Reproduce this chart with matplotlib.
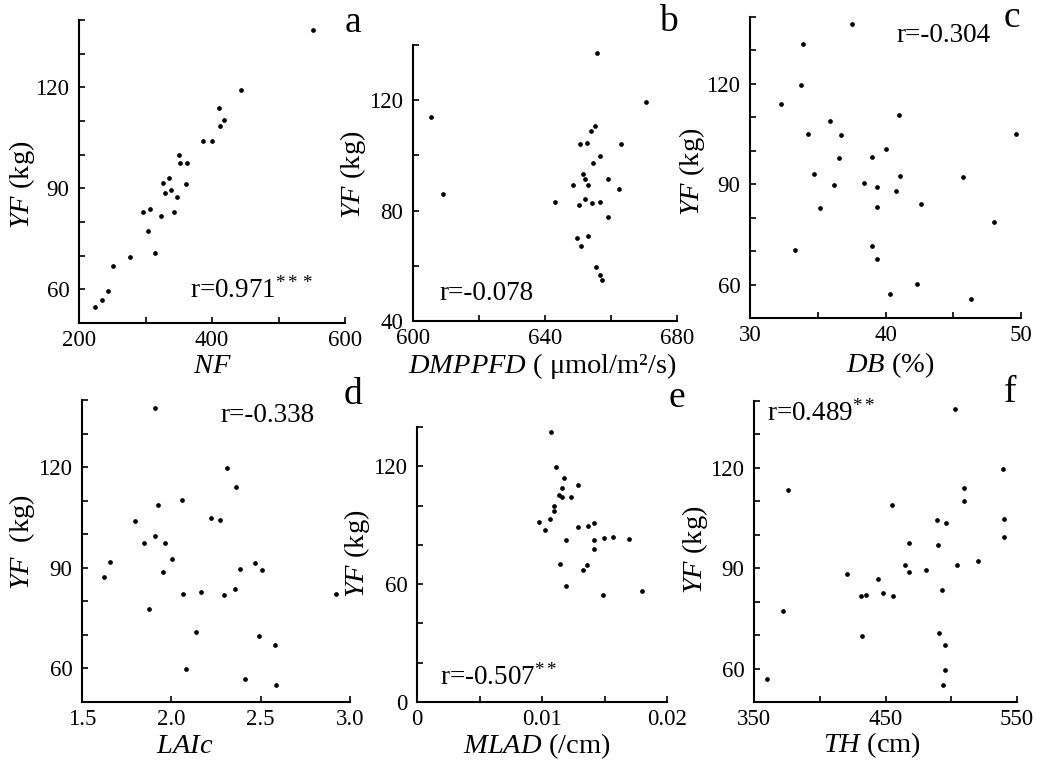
import matplotlib
matplotlib.use("Agg")
import matplotlib.pyplot as plt
from matplotlib.ticker import FixedLocator, FuncFormatter

plt.rcParams['font.family'] = ['Liberation Serif', 'DejaVu Serif']
plt.rcParams['mathtext.fontset'] = 'custom'
plt.rcParams['mathtext.rm'] = 'Liberation Serif'
plt.rcParams['mathtext.it'] = 'Liberation Serif:italic'

# ---------------- data ----------------
nf_x = [552, 444, 411, 412, 418, 387, 400, 350, 352, 363, 361, 326, 336, 338, 330,
        348, 343, 324, 296, 307, 304, 315, 277, 251, 243, 235, 224]
nf_y = [137, 119.3, 113.8, 108.4, 110.3, 104.2, 104.2, 99.9, 97.4, 97.4, 91.3, 91.6,
        93.1, 89.6, 88.6, 87.3, 82.9, 81.9, 82.9, 83.9, 77.4, 70.8, 69.7, 66.8, 59.6,
        56.8, 54.9]

dmppfd_x = [655.8, 670.7, 605.5, 609.0, 655.2, 654.0, 650.6, 652.6, 663.1, 656.8, 654.6,
            651.6, 652.1, 659.1, 648.5, 652.9, 662.4, 643.0, 652.1, 650.4, 654.3, 656.8,
            659.0, 649.8, 653.0, 651.0, 655.4, 656.6, 657.3]
dmppfd_y = [137, 119.3, 113.9, 86.1, 110.5, 108.8, 104.2, 104.6, 104.2, 99.8, 97.3,
            93.1, 91.3, 91.6, 89.2, 89.2, 88.0, 83.1, 84.3, 81.9, 82.8, 83.1, 77.7,
            70.2, 70.7, 67.1, 59.6, 56.6, 54.8]

db_x = [37.5, 33.9, 33.8, 32.3, 35.9, 41.0, 34.3, 36.7, 49.6, 40.0, 36.6, 39.0, 34.7,
        41.1, 45.7, 36.2, 38.4, 39.4, 40.8, 35.2, 39.4, 42.6, 48.0, 33.3, 39.0, 39.4,
        42.3, 40.3, 46.3]
db_y = [138, 131.8, 119.8, 114, 109, 110.6, 105, 104.8, 105, 100.6, 97.9, 98.1, 93.1,
        92.4, 92.2, 89.7, 90.3, 89.3, 88.1, 82.8, 83.1, 84.2, 78.6, 70.2, 71.4, 67.5,
        60.3, 57.3, 55.7]

laic_x = [1.909, 2.309, 2.364, 1.924, 2.058, 1.797, 2.221, 2.271, 1.909, 1.848, 1.965,
          2.002, 1.658, 1.625, 1.955, 2.383, 2.468, 2.506, 2.067, 2.164, 2.294, 2.359,
          2.922, 1.875, 2.136, 2.491, 2.580, 2.082, 2.411, 2.584]
laic_y = [137.6, 119.7, 114, 108.6, 110.1, 103.8, 104.8, 104.3, 99.5, 97.4, 97.4, 92.5,
          91.7, 87.3, 88.7, 89.7, 91.3, 89.3, 82.3, 82.8, 81.8, 83.8, 82.3, 77.6, 70.9,
          69.8, 66.9, 59.8, 57.0, 55.2]

mlad_x = [0.01070, 0.01112, 0.01176, 0.01286, 0.01163, 0.01163, 0.01230, 0.01135,
          0.01099, 0.01099, 0.01064, 0.00976, 0.01024, 0.01286, 0.01366, 0.01417,
          0.01190, 0.01417, 0.01497, 0.01564, 0.01693, 0.01417, 0.01144, 0.01358,
          0.01324, 0.01190, 0.01487, 0.01800]
mlad_y = [137.5, 119.7, 113.8, 110.7, 109.2, 104.4, 104.4, 105.2, 99.7, 97.3, 93.4,
          91.7, 87.4, 89.1, 89.6, 91.3, 82.3, 82.3, 83.5, 83.9, 83.2, 78.1, 70.5, 69.6,
          67.1, 58.9, 54.7, 56.4]

th_x = [503.2, 539.4, 376.0, 509.7, 509.7, 455.3, 489.5, 496.3, 540.1, 539.9, 467.7,
        490.0, 465.2, 504.7, 520.4, 420.4, 468.0, 480.6, 444.4, 431.3, 434.8, 448.2,
        455.8, 493.0, 372.3, 431.8, 490.8, 495.6, 495.6, 493.8, 360.1]
th_y = [137.7, 119.6, 113.3, 114.0, 110.0, 108.8, 104.4, 103.6, 104.6, 99.3, 97.4,
        96.9, 90.9, 90.9, 92.3, 88.4, 88.9, 89.4, 86.9, 81.6, 81.9, 82.6, 81.6, 83.4,
        77.3, 69.7, 70.7, 67.0, 59.7, 55.0, 57.0]

W, H = 1045, 760
fig = plt.figure(figsize=(W / 100, H / 100), dpi=100)

TICK_FS = 16.5
LAB_FS = 20.5
R_FS = 19.5


def make_ax(left, right, top, bottom):
    return fig.add_axes([left / W, 1 - bottom / H, (right - left) / W, (bottom - top) / H])


def style(ax, xlim, ylim, xmaj, xmin, ymaj, ymin, xfmt=None):
    ax.set_xlim(*xlim)
    ax.set_ylim(*ylim)
    for s in ('top', 'right'):
        ax.spines[s].set_visible(False)
    for s in ('left', 'bottom'):
        ax.spines[s].set_linewidth(1.5)
    ax.xaxis.set_major_locator(FixedLocator(xmaj))
    ax.xaxis.set_minor_locator(FixedLocator(xmin))
    ax.yaxis.set_major_locator(FixedLocator(ymaj))
    ax.yaxis.set_minor_locator(FixedLocator(ymin))
    if xfmt:
        ax.xaxis.set_major_formatter(FuncFormatter(xfmt))
    ax.tick_params(which='both', direction='in', width=1.2, labelsize=TICK_FS)
    ax.tick_params(which='both', length=4)
    ax.tick_params(axis='x', pad=5)
    ax.tick_params(axis='y', pad=7)


def labels(ax, xl, xpos, yl, ypos):
    ax.set_xlabel(xl, fontsize=LAB_FS)
    ax.xaxis.label.set_va('baseline')
    ax.xaxis.set_label_coords(*xpos)
    ax.set_ylabel(yl, fontsize=LAB_FS)
    ax.yaxis.label.set_va('center')
    ax.yaxis.set_label_coords(*ypos)


ylab = r'$\mathit{YF}$ (kg)'
ms = 3.4

# a
ax = make_ax(79, 345, 20, 323)
ax.plot(nf_x, nf_y, 'o', color='black', ms=ms, mec='none')
style(ax, (200, 600), (50, 140), [200, 400, 600], [300, 500], [60, 90, 120],
      [70, 80, 100, 110, 130, 140])
labels(ax, r'$\mathit{NF}$', (0.5, -0.165), ylab, (-0.214, 0.455))
ax.text(0.417, 0.109, r'r=0.971$^{***}$', transform=ax.transAxes, fontsize=R_FS,
        va='center', ha='left')

# b
ax = make_ax(413, 677, 45, 321)
ax.plot(dmppfd_x, dmppfd_y, 'o', color='black', ms=ms, mec='none')
style(ax, (600, 680), (40, 140), [600, 640, 680], [620, 660], [40, 80, 120],
      [60, 100, 140])
labels(ax, r'$\mathit{DMPPFD}$ ( μmol/m²/s)', (0.49, -0.19), ylab, (-0.227, 0.53))
ax.text(0.10, 0.10, 'r=-0.078', transform=ax.transAxes, fontsize=R_FS,
        va='center', ha='left')

# c
ax = make_ax(750, 1021, 17, 318)
ax.plot(db_x, db_y, 'o', color='black', ms=ms, mec='none')
style(ax, (30, 50), (50, 140), [30, 40, 50], [35, 45], [60, 90, 120],
      [70, 80, 100, 110, 130, 140])
labels(ax, r'$\mathit{DB}$ (%)', (0.517, -0.18), ylab, (-0.214, 0.485))
ax.text(0.54, 0.94, 'r=-0.304', transform=ax.transAxes, fontsize=R_FS,
        va='center', ha='left')

# d
ax = make_ax(82, 350, 400, 702)
ax.plot(laic_x, laic_y, 'o', color='black', ms=ms, mec='none')
style(ax, (1.5, 3.0), (50, 140), [1.5, 2.0, 2.5, 3.0], [], [60, 90, 120],
      [70, 80, 100, 110, 130, 140], xfmt=lambda v, p: f'{v:.1f}')
labels(ax, r'$\mathit{LAIc}$', (0.384, -0.168), r'$\mathit{YF}$  (kg)', (-0.224, 0.53))
ax.text(0.515, 0.95, 'r=-0.338', transform=ax.transAxes, fontsize=R_FS,
        va='center', ha='left')

# e
ax = make_ax(417, 667, 427, 702)
ax.plot(mlad_x, mlad_y, 'o', color='black', ms=ms, mec='none')
style(ax, (0, 0.02), (0, 140), [0, 0.01, 0.02], [0.005, 0.015], [0, 60, 120],
      [20, 40, 80, 100, 140], xfmt=lambda v, p: '0' if v == 0 else f'{v:.2f}')
labels(ax, r'$\mathit{MLAD}$ (/cm)', (0.48, -0.187), ylab, (-0.24, 0.54))
ax.text(0.092, 0.09, r'r=-0.507$^{**}$', transform=ax.transAxes, fontsize=R_FS,
        va='center', ha='left')

# f
ax = make_ax(754, 1017, 401, 702)
ax.plot(th_x, th_y, 'o', color='black', ms=ms, mec='none')
style(ax, (350, 550), (50, 140), [350, 450, 550], [400, 500], [60, 90, 120],
      [70, 80, 100, 110, 130, 140])
labels(ax, r'$\mathit{TH}$ (cm)', (0.45, -0.168), ylab, (-0.224, 0.505))
ax.text(0.05, 0.96, r'r=0.489$^{**}$', transform=ax.transAxes, fontsize=R_FS,
        va='center', ha='left')

# panel letters
for lbl, (px, py) in zip('abcdef', [(353, 23), (668, 22), (1012, 18),
                                     (353, 395), (677, 398), (1010, 393)]):
    fig.text(px / W, 1 - py / H, lbl, fontsize=27, ha='center', va='center')

fig.savefig('out.png', dpi=100, facecolor='white')
